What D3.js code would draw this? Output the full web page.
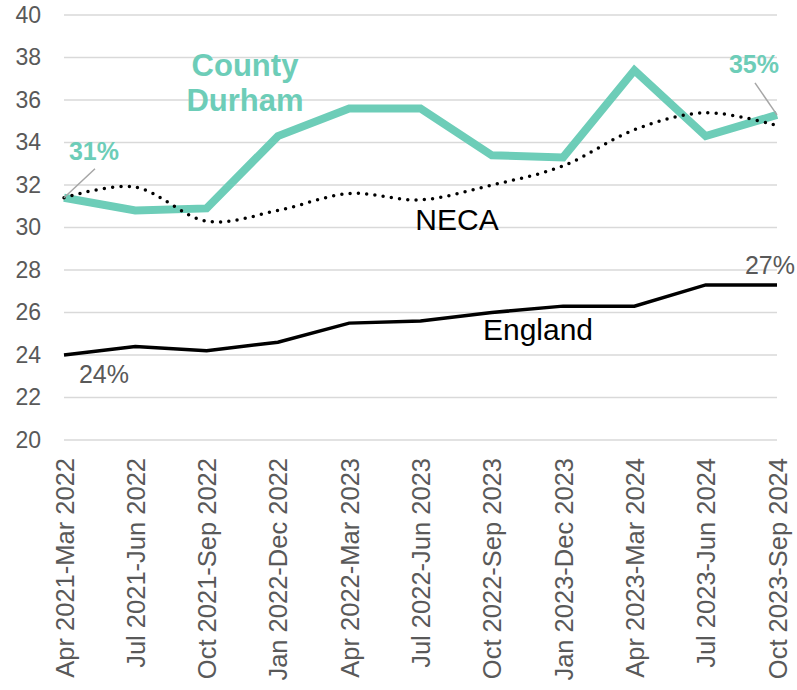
<!DOCTYPE html>
<html>
<head>
<meta charset="utf-8">
<script src="https://cdn.jsdelivr.net/npm/d3@7"></script>
<style>
  body { margin: 0; background: #fff; }
  text { font-family: "Liberation Sans", Arial, sans-serif; }
</style>
</head>
<body>
<div id="chart"></div>
<script>
// Data
const periods = [
  'Apr 2021-Mar 2022', 'Jul 2021-Jun 2022', 'Oct 2021-Sep 2022', 'Jan 2022-Dec 2022',
  'Apr 2022-Mar 2023', 'Jul 2022-Jun 2023', 'Oct 2022-Sep 2023', 'Jan 2023-Dec 2023',
  'Apr 2023-Mar 2024', 'Jul 2023-Jun 2024', 'Oct 2023-Sep 2024'
];
const countyDurham = [31.4, 30.8, 30.9, 34.3, 35.6, 35.6, 33.4, 33.3, 37.4, 34.3, 35.3];
const neca = [31.4, 31.9, 30.3, 30.8, 31.6, 31.3, 32.0, 32.9, 34.6, 35.4, 34.8];
const england = [24.0, 24.4, 24.2, 24.6, 25.5, 25.6, 26.0, 26.3, 26.3, 27.3, 27.3];
const yTicks = [20, 22, 24, 26, 28, 30, 32, 34, 36, 38, 40];

const width = 797;
const height = 690;
const margin = {top: 15, right: 20, bottom: 250, left: 64};

const teal = '#6dcdb8';
const grey = '#595959';

const svg = d3.select('#chart').append('svg')
  .attr('width', width)
  .attr('height', height);

const x = d3.scalePoint()
  .domain(periods)
  .range([margin.left, width - margin.right]);

const y = d3.scaleLinear()
  .domain([20, 40])
  .range([height - margin.bottom, margin.top]);

// gridlines
svg.append('g').selectAll('line')
  .data(yTicks)
  .enter().append('line')
    .attr('x1', margin.left)
    .attr('x2', width - margin.right)
    .attr('y1', d => y(d))
    .attr('y2', d => y(d))
    .attr('stroke', '#d9d9d9')
    .attr('stroke-width', 1.5);

// y axis
const yAxis = svg.append('g')
  .attr('transform', `translate(${margin.left - 23},0)`)
  .call(d3.axisLeft(y).tickValues(yTicks).tickSize(0).tickPadding(0));
yAxis.select('.domain').remove();
yAxis.selectAll('text')
  .attr('fill', grey)
  .attr('font-size', 23)
  .attr('font-family', '"Liberation Sans", Arial, sans-serif');

// x axis
const xAxis = svg.append('g')
  .attr('transform', `translate(0,${height - margin.bottom})`)
  .call(d3.axisBottom(x).tickSize(0).tickPadding(0));
xAxis.select('.domain').remove();
xAxis.selectAll('text')
  .attr('fill', grey)
  .attr('font-size', 25.5)
  .attr('font-family', '"Liberation Sans", Arial, sans-serif')
  .attr('text-anchor', 'end')
  .attr('transform', 'translate(9,18) rotate(-90)')
  .attr('dy', 0)
  .attr('y', 0)
  .attr('x', 0);

const line = d3.line()
  .x((d, i) => x(periods[i]))
  .y(d => y(d));

// England
svg.append('path')
  .datum(england)
  .attr('fill', 'none')
  .attr('stroke', '#000')
  .attr('stroke-width', 3.5)
  .attr('d', line);

// County Durham
svg.append('path')
  .datum(countyDurham)
  .attr('fill', 'none')
  .attr('stroke', teal)
  .attr('stroke-width', 8)
  .attr('stroke-linejoin', 'miter')
  .attr('d', line);

// NECA (smoothed, dotted)
svg.append('path')
  .datum(neca)
  .attr('fill', 'none')
  .attr('stroke', '#000')
  .attr('stroke-width', 3.5)
  .attr('stroke-linecap', 'round')
  .attr('stroke-dasharray', '0 8.3')
  .attr('d', line.curve(d3.curveCardinal.tension(0)));

// labels
const last = periods.length - 1;

svg.append('line')
  .attr('x1', x(periods[0])).attr('y1', y(countyDurham[0]))
  .attr('x2', x(periods[0]) + 31).attr('y2', y(countyDurham[0]) - 29)
  .attr('stroke', '#a6a6a6').attr('stroke-width', 1.5);
svg.append('line')
  .attr('x1', x(periods[last])).attr('y1', y(countyDurham[last]))
  .attr('x2', x(periods[last]) - 22).attr('y2', y(countyDurham[last]) - 32)
  .attr('stroke', '#a6a6a6').attr('stroke-width', 1.5);

const labels = [
  {t: 'County', x: 245, y: 76, size: 31, bold: true, c: teal},
  {t: 'Durham', x: 245, y: 111, size: 31, bold: true, c: teal},
  {t: '31%', x: 94, y: 160, size: 25, bold: true, c: teal},
  {t: '35%', x: 754, y: 73, size: 25, bold: true, c: teal},
  {t: 'NECA', x: 457, y: 230, size: 30, bold: false, c: '#000'},
  {t: 'England', x: 538, y: 340, size: 30, bold: false, c: '#000'},
  {t: '24%', x: 104, y: 383, size: 25, bold: false, c: grey},
  {t: '27%', x: 770, y: 274, size: 25, bold: false, c: grey}
];

svg.append('g').selectAll('text')
  .data(labels)
  .enter().append('text')
    .attr('x', d => d.x)
    .attr('y', d => d.y)
    .attr('text-anchor', 'middle')
    .attr('font-size', d => d.size)
    .attr('font-weight', d => d.bold ? 'bold' : 'normal')
    .attr('fill', d => d.c)
    .text(d => d.t);
</script>
</body>
</html>
